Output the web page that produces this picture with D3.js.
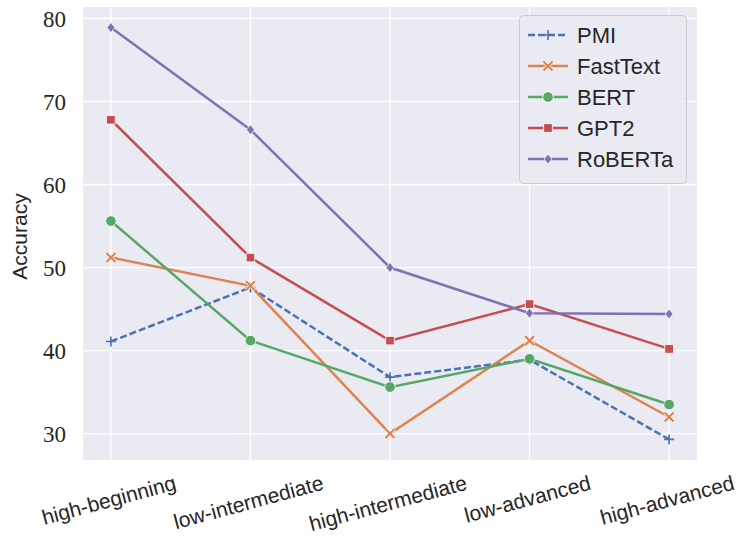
<!DOCTYPE html>
<html>
<head>
<meta charset="utf-8">
<script src="https://cdn.jsdelivr.net/npm/d3@7"></script>
<style>
  body { margin: 0; background: #fff; }
  svg text { fill: #262626; }
</style>
</head>
<body>
<div id="chart"></div>
<script>
const levels = ["high-beginning", "low-intermediate", "high-intermediate", "low-advanced", "high-advanced"];
const models = ["PMI", "FastText", "BERT", "GPT2", "RoBERTa"];
const pmi = [41.1, 47.6, 36.8, 38.9, 29.3];
const fasttext = [51.2, 47.8, 30.0, 41.2, 32.0];
const bert = [55.6, 41.2, 35.6, 39.0, 33.5];
const gpt2 = [67.8, 51.2, 41.2, 45.6, 40.2];
const roberta = [78.9, 66.6, 50.0, 44.5, 44.4];
const yTicks = [30, 40, 50, 60, 70, 80];
const colors = ["#4c72b0", "#dd8452", "#55a868", "#c44e52", "#8172b3"];
const series = [pmi, fasttext, bert, gpt2, roberta];

const width = 742, height = 540;
const plotLeft = 83, plotRight = 697, plotTop = 7, plotBottom = 460;

const svg = d3.select("#chart").append("svg")
    .attr("width", width)
    .attr("height", height);

// matplotlib style 5% margins
const x = d3.scaleLinear()
    .domain([-0.2, levels.length - 1 + 0.2])
    .range([plotLeft, plotRight]);

let allVals = series.flat();
let lo = d3.min(allVals), hi = d3.max(allVals);
let pad = (hi - lo) * 0.05;
const y = d3.scaleLinear()
    .domain([lo - pad, hi + pad])
    .range([plotBottom, plotTop]);

// background + grid
svg.append("rect")
    .attr("x", plotLeft).attr("y", plotTop)
    .attr("width", plotRight - plotLeft).attr("height", plotBottom - plotTop)
    .attr("fill", "#eaeaf2");

svg.append("g").selectAll("line")
    .data(yTicks)
    .enter().append("line")
    .attr("x1", plotLeft).attr("x2", plotRight)
    .attr("y1", d => y(d)).attr("y2", d => y(d))
    .attr("stroke", "#fff").attr("stroke-width", 1.3);

svg.append("g").selectAll("line")
    .data(levels)
    .enter().append("line")
    .attr("x1", (d, i) => x(i)).attr("x2", (d, i) => x(i))
    .attr("y1", plotTop).attr("y2", plotBottom)
    .attr("stroke", "#fff").attr("stroke-width", 1.3);

// y tick labels
svg.append("g").selectAll("text")
    .data(yTicks)
    .enter().append("text")
    .attr("x", 66)
    .attr("y", d => y(d))
    .attr("dy", "0.35em")
    .attr("text-anchor", "end")
    .style("font-family", "'Liberation Serif', serif")
    .style("font-size", "23px")
    .text(d => d);

svg.append("text")
    .attr("transform", "translate(27," + ((plotTop + plotBottom) / 2 + 3) + ") rotate(-90)")
    .attr("text-anchor", "middle")
    .style("font-family", "'Liberation Sans', sans-serif")
    .style("font-size", "21px")
    .text("Accuracy");

// x tick labels, rotated 15 degrees, bbox top under the axes
const ang = 15 * Math.PI / 180;
svg.append("g").selectAll("text")
    .data(levels)
    .enter().append("text")
    .attr("text-anchor", "middle")
    .attr("dy", "0.35em")
    .style("font-family", "'Liberation Sans', sans-serif")
    .style("font-size", "21px")
    .text(d => d)
    .each(function(d, i) {
      let len = this.getComputedTextLength();
      let h = len * Math.sin(ang) + 21 * Math.cos(ang);
      let cy = 472 + h / 2;
      d3.select(this).attr("transform", "translate(" + (x(i) - 2) + "," + cy + ") rotate(-15)");
    });

// marker shapes
function drawMarker(g, k, cx, cy, color) {
  if (k === 0) {
    // plus
    g.append("path")
      .attr("d", "M" + (cx - 5) + "," + cy + "H" + (cx + 5) + "M" + cx + "," + (cy - 5) + "V" + (cy + 5))
      .attr("stroke", color).attr("stroke-width", 1.6).attr("fill", "none");
  } else if (k === 1) {
    // x
    let d = "M" + (cx - 4.5) + "," + (cy - 4.5) + "L" + (cx + 4.5) + "," + (cy + 4.5) +
            "M" + (cx - 4.5) + "," + (cy + 4.5) + "L" + (cx + 4.5) + "," + (cy - 4.5);
    g.append("path").attr("d", d)
      .attr("stroke", "#fff").attr("stroke-width", 3.6).attr("fill", "none");
    g.append("path").attr("d", d)
      .attr("stroke", color).attr("stroke-width", 2.2).attr("fill", "none");
  } else if (k === 2) {
    g.append("circle")
      .attr("cx", cx).attr("cy", cy).attr("r", 5.3)
      .attr("fill", color).attr("stroke", "#fff").attr("stroke-width", 0.8);
  } else if (k === 3) {
    g.append("rect")
      .attr("x", cx - 4.3).attr("y", cy - 4.3)
      .attr("width", 8.6).attr("height", 8.6)
      .attr("fill", color).attr("stroke", "#fff").attr("stroke-width", 0.8);
  } else {
    g.append("path")
      .attr("d", d3.symbol(d3.symbolDiamond2, 64)())
      .attr("transform", "translate(" + cx + "," + cy + ") scale(0.8,1)")
      .attr("fill", color).attr("stroke", "#fff").attr("stroke-width", 0.8);
  }
}

const line = d3.line()
    .x((d, i) => x(i))
    .y(d => y(d));

series.forEach(function(vals, k) {
  let g = svg.append("g");
  g.append("path")
    .datum(vals)
    .attr("d", line)
    .attr("fill", "none")
    .attr("stroke", colors[k])
    .attr("stroke-width", 2.5)
    .attr("stroke-dasharray", k === 0 ? "7,3" : null);
  vals.forEach((v, i) => drawMarker(g, k, x(i), y(v), colors[k]));
});

// legend
const lg = svg.append("g");
lg.append("rect")
    .attr("x", 519.5).attr("y", 15.5)
    .attr("width", 167).attr("height", 168)
    .attr("rx", 4)
    .attr("fill", "#eaeaf2").attr("fill-opacity", 0.8)
    .attr("stroke", "#cccccc").attr("stroke-width", 1);

models.forEach(function(m, k) {
  let cy = 35 + k * 31;
  lg.append("line")
    .attr("x1", 528).attr("x2", 568)
    .attr("y1", cy).attr("y2", cy)
    .attr("stroke", colors[k]).attr("stroke-width", 2.5)
    .attr("stroke-dasharray", k === 0 ? "7,3" : null);
  drawMarker(lg, k, 548, cy, colors[k]);
  lg.append("text")
    .attr("x", 577).attr("y", cy)
    .attr("dy", "0.36em")
    .style("font-family", "'Liberation Sans', sans-serif")
    .style("font-size", "22px")
    .text(m);
});
</script>
</body>
</html>
